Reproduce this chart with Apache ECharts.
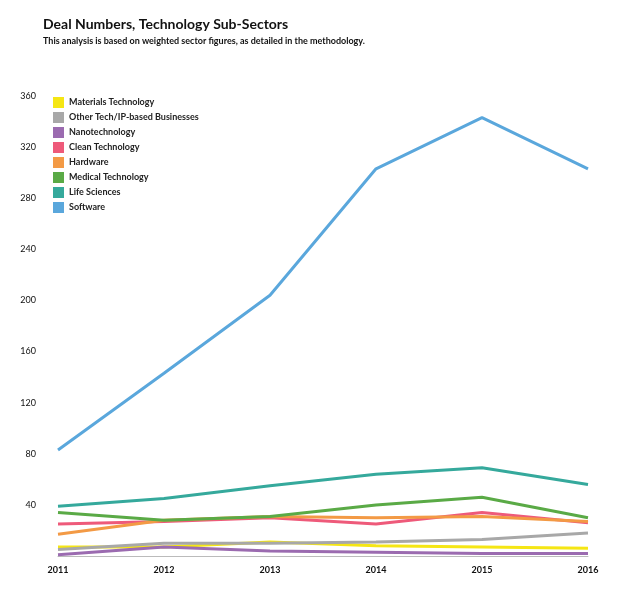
<!DOCTYPE html>
<html><head><meta charset="utf-8">
<script src="https://cdn.jsdelivr.net/npm/echarts@6/dist/echarts.min.js"></script>
<style>body{margin:0}#c{width:626px;height:589px}</style>
</head><body><div id="c"></div>
<script>
var years = ['2011', '2012', '2013', '2014', '2015', '2016'];
var seriesNames = ['Materials Technology', 'Other Tech/IP-based Businesses', 'Nanotechnology', 'Clean Technology', 'Hardware', 'Medical Technology', 'Life Sciences', 'Software'];
var colors = ['#f5e614', '#a8a8a8', '#9b6bb0', '#ee5a7a', '#f39a45', '#5aaa46', '#35a99c', '#5aa7dc'];
var materials = [7, 7, 11, 8, 7, 6];
var otherTech = [5, 10, 10, 11, 13, 18];
var nano = [1, 7, 4, 3, 2, 2];
var clean = [25, 27, 30, 25, 34, 26];
var hardware = [17, 28, 31, 30, 31, 27];
var medical = [34, 28, 31, 40, 46, 30];
var lifeSci = [39, 45, 55, 64, 69, 56];
var software = [83, 143, 204, 303, 343, 303];
var values = [materials, otherTech, nano, clean, hardware, medical, lifeSci, software];

var chart = echarts.init(document.getElementById('c'));
chart.setOption({
  animation: false,
  color: colors,
  title: {
    text: 'Deal Numbers, Technology Sub-Sectors',
    subtext: 'This analysis is based on weighted sector figures, as detailed in the methodology.',
    left: 38, top: 12,
    textStyle: {fontFamily: 'Lato', fontSize: 14, fontWeight: 'bold', color: '#111'},
    subtextStyle: {fontFamily: 'Lato', fontSize: 9, color: '#111', fontWeight: 'bold'},
    itemGap: 6
  },
  legend: {
    orient: 'vertical', left: 48, top: 92, itemGap: 4,
    icon: 'rect', itemWidth: 11, itemHeight: 11,
    textStyle: {fontFamily: 'Lato', fontSize: 9, color: '#222', fontWeight: 'bold'},
    data: seriesNames
  },
  grid: {left: 58, right: 38, top: 96, bottom: 33},
  xAxis: {
    type: 'category', data: years, boundaryGap: false,
    axisLine: {lineStyle: {color: '#bbb'}}, axisTick: {show: false},
    axisLabel: {fontFamily: 'Lato', fontSize: 9, color: '#111', fontWeight: 'bold', margin: 10}
  },
  yAxis: {
    type: 'value', min: 0, max: 360, interval: 40,
    splitLine: {show: false}, axisLine: {show: false}, axisTick: {show: false},
    axisLabel: {fontFamily: 'Lato', fontSize: 9, color: '#111', margin: 22,
      formatter: function (v) { return v === 0 ? '' : v; }}
  },
  series: seriesNames.map(function (n, i) {
    return {name: n, type: 'line', data: values[i], symbol: 'none',
      lineStyle: {width: 3}, z: 2 + i};
  })
});
</script></body></html>
